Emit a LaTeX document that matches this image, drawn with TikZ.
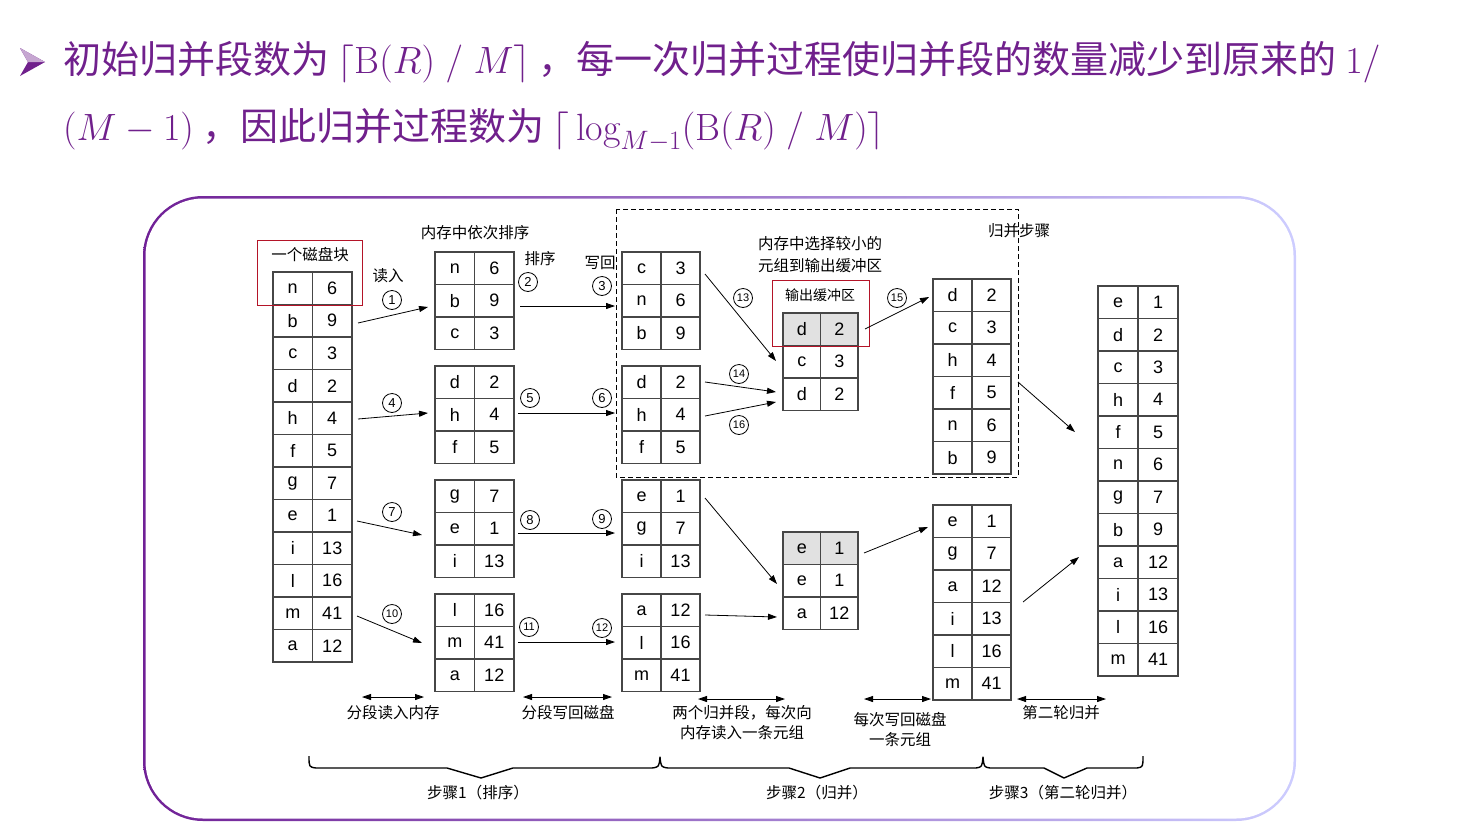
\RequirePackage{fix-cm}
\documentclass[tikz,border=0pt]{standalone}
\usepackage{fontspec}
\usetikzlibrary{arrows.meta}
\newfontfamily\cjk{Noto Sans CJK SC}
\newfontfamily\arial{Liberation Sans}
\definecolor{ttl}{RGB}{112,32,140}
\definecolor{bordL}{RGB}{112,32,150}
\definecolor{bordR}{RGB}{205,205,255}
\definecolor{tline}{RGB}{70,70,70}
\definecolor{bufgray}{RGB}{225,225,225}
\definecolor{redbox}{RGB}{180,20,40}
\tikzset{
 cell/.style={draw=tline, line width=1.1pt, minimum height=32.5pt, inner sep=0pt, font=\arial\fontsize{18}{20}\selectfont},
 lbl/.style={font=\cjk\fontsize{15.5}{17}\selectfont, inner sep=0pt},
 num/.style={circle, draw, line width=0.8pt, minimum size=19pt, inner sep=0pt, font=\arial\fontsize{13}{13}\selectfont},
 numw/.style={num, font=\arial\fontsize{11}{11}\selectfont},
 arr/.style={-{Triangle[length=9pt,width=6pt]}, line width=0.8pt},
 darr/.style={{Triangle[length=9pt,width=6pt]}-{Triangle[length=9pt,width=6pt]}, line width=0.8pt},
 brc/.style={line width=1.4pt, line join=round},
 ttltext/.style={anchor=west, text=ttl, font=\cjk\fontsize{38}{40}\selectfont, inner sep=0pt},
}
\newcommand\mktable[5]{%
 \foreach \a/\b [count=\i] in {#5} {
   \node[cell, minimum width=#4pt] (#1-\i-a) at ({#2+#4/2},{#3+(\i-0.5)*32.5}) {\a};
   \node[cell, minimum width=#4pt] (#1-\i-b) at ({#2+#4*1.5},{#3+(\i-0.5)*32.5}) {\b};
 }}
\begin{document}
\begin{tikzpicture}[x=1pt,y=-1pt]
\useasboundingbox (0,0) rectangle (1467,833);
% title
\fill[ttl] (20,48) -- (45,62) -- (20,76) -- (28,62) -- cycle;
\fill[ttl!40] (20,48) -- (45,62) -- (28,62) -- cycle;
\node[ttltext] (t1) at (63,62) {初始归并段数为 $\lceil \mathrm{B}(R)\;/\;M\rceil$ ，每一次归并过程使归并段的数量减少到原来的 $1/$};
\node[ttltext] (t2) at (63,130) {$(M-1)$ ，因此归并过程数为 $\lceil\, \log_{M-1}(\mathrm{B}(R)\;/\;M)\rceil$};
% frame
\shade[left color=bordL, right color=bordR, rounded corners=60pt] (143,196) rectangle (1296,821);
\fill[white, rounded corners=57.5pt] (145.5,198.5) rectangle (1293.5,818.5);
% dashed box
\draw[dash pattern=on 5pt off 3pt, line width=1pt] (616,209) rectangle (1018,477);
% buffer gray
\fill[bufgray] (783,313) rectangle (858,345.5);
\fill[bufgray] (783,532) rectangle (858,564.5);
% tables
\mktable{D}{273}{272}{39.5}{n/6,b/9,c/3,d/2,h/4,f/5,g/7,e/1,i/13,l/16,m/41,a/12}
\mktable{A}{435}{252}{39.5}{n/6,b/9,c/3}
\mktable{B}{435}{366}{39.5}{d/2,h/4,f/5}
\mktable{C}{435}{480}{39.5}{g/7,e/1,i/13}
\mktable{E}{435}{594}{39.5}{l/16,m/41,a/12}
\mktable{F}{622}{252}{39}{c/3,n/6,b/9}
\mktable{G}{622}{366}{39}{d/2,h/4,f/5}
\mktable{H}{622}{480}{39}{e/1,g/7,i/13}
\mktable{K}{622}{594}{39}{a/12,l/16,m/41}
\mktable{P}{783}{313}{37.5}{d/2,c/3,d/2}
\mktable{Q}{783}{532}{37.5}{e/1,e/1,a/12}
\mktable{R}{933}{279}{39}{d/2,c/3,h/4,f/5,n/6,b/9}
\mktable{S}{933}{505}{39}{e/1,g/7,a/12,i/13,l/16,m/41}
\mktable{T}{1098}{286}{40}{e/1,d/2,c/3,h/4,f/5,n/6,g/7,b/9,a/12,i/13,l/16,m/41}
% red boxes
\draw[redbox, line width=1pt] (257,240) rectangle (362,305);
\draw[redbox, line width=1pt] (772,280) rectangle (869,346);
% labels
\node[lbl] (l1) at (310,255) {一个磁盘块};
\node[lbl] (l2) at (475,233) {内存中依次排序};
\node[lbl] (l3) at (388,276) {读入};
\node[lbl] (l4) at (540,259) {排序};
\node[lbl] (l5) at (600,263) {写回};
\node[lbl] (l6) at (820,244) {内存中选择较小的};
\node[lbl] (l7) at (820,266) {元组到输出缓冲区};
\node[lbl, font=\cjk\fontsize{14}{15}\selectfont] (l8) at (820,295) {输出缓冲区};
\node[lbl] (l9) at (1019,231) {归并步骤};
% circled numbers
\node[num] (c1) at (392,300) {1};
\node[num] (c2) at (528,282) {2};
\node[num] (c3) at (602,286) {3};
\node[num] (c4) at (392,403) {4};
\node[num] (c5) at (530,398) {5};
\node[num] (c6) at (602,398) {6};
\node[num] (c7) at (392,512) {7};
\node[num] (c8) at (530,520) {8};
\node[num] (c9) at (602,519) {9};
\node[numw] (c10) at (392,614) {10};
\node[numw] (c11) at (529,627) {11};
\node[numw] (c12) at (602,628) {12};
\node[numw] (c13) at (743,298) {13};
\node[numw] (c14) at (739,374) {14};
\node[numw] (c15) at (897,298) {15};
\node[numw] (c16) at (739,425) {16};
% arrow coordinates
\coordinate (a1s) at (358,323); \coordinate (a1e) at (428,307);
\coordinate (a4s) at (358,419); \coordinate (a4e) at (428,413);
\coordinate (a7s) at (357,521); \coordinate (a7e) at (422,535);
\coordinate (a10s) at (357,616); \coordinate (a10e) at (422,643);
\coordinate (a2s) at (520,306); \coordinate (a2e) at (615,306);
\coordinate (a5s) at (518,413); \coordinate (a5e) at (615,413);
\coordinate (a8s) at (518,533); \coordinate (a8e) at (615,533);
\coordinate (a11s) at (518,642); \coordinate (a11e) at (615,642);
\coordinate (a13s) at (705,274); \coordinate (a13e) at (776,361);
\coordinate (a14s) at (705,382); \coordinate (a14e) at (776,392);
\coordinate (a16s) at (705,416); \coordinate (a16e) at (776,402);
\coordinate (a15s) at (865,329); \coordinate (a15e) at (929,297);
\coordinate (axs) at (1018,382); \coordinate (axe) at (1075,432);
\coordinate (bgs) at (705,498); \coordinate (bge) at (777,584);
\coordinate (bhs) at (705,615); \coordinate (bhe) at (777,617);
\coordinate (bqs) at (864,553); \coordinate (bqe) at (928,527);
\coordinate (bys) at (1023,602); \coordinate (bye) at (1079,557);
\foreach \p in {a1,a4,a7,a10,a2,a5,a8,a11,a13,a14,a16,a15,ax,bg,bh,bq,by}
  \draw[arr] (\p s) -- (\p e);
% bottom double arrows
\coordinate (d1s) at (362,697); \coordinate (d1e) at (424,697);
\coordinate (d2s) at (523,697); \coordinate (d2e) at (612,697);
\coordinate (d3s) at (698,699); \coordinate (d3e) at (785,699);
\coordinate (d4s) at (864,699); \coordinate (d4e) at (931,699);
\coordinate (d5s) at (1017,699); \coordinate (d5e) at (1106,699);
\foreach \p in {d1,d2,d3,d4,d5}
  \draw[darr] (\p s) -- (\p e);
\node[lbl] (m1) at (393,713) {分段读入内存};
\node[lbl] (m2) at (568,713) {分段写回磁盘};
\node[lbl, align=center] (m3) at (742,723) {两个归并段，每次向\\[3pt]内存读入一条元组};
\node[lbl, align=center] (m4) at (900,729) {每次写回磁盘\\[3pt]一条元组};
\node[lbl] (m5) at (1061,713) {第二轮归并};
% braces
\draw[brc] (309,756) .. controls (309,767) .. (316,768) -- (447,768) -- (481,778) -- (513,768) -- (652,768) .. controls (659,767) .. (660,757) .. controls (661,767) .. (668,768) -- (789,768) -- (820,778) -- (850,768) -- (976,768) .. controls (982,767) .. (983,757) .. controls (984,767) .. (990,768) -- (1044,768) -- (1064,778) -- (1087,768) -- (1137,768) .. controls (1143,767) .. (1143,756);
\node[lbl] (s1) at (478,793) {步骤1（排序）};
\node[lbl] (s2) at (817,793) {步骤2（归并）};
\node[lbl] (s3) at (1063,793) {步骤3（第二轮归并）};
\end{tikzpicture}
\end{document}
